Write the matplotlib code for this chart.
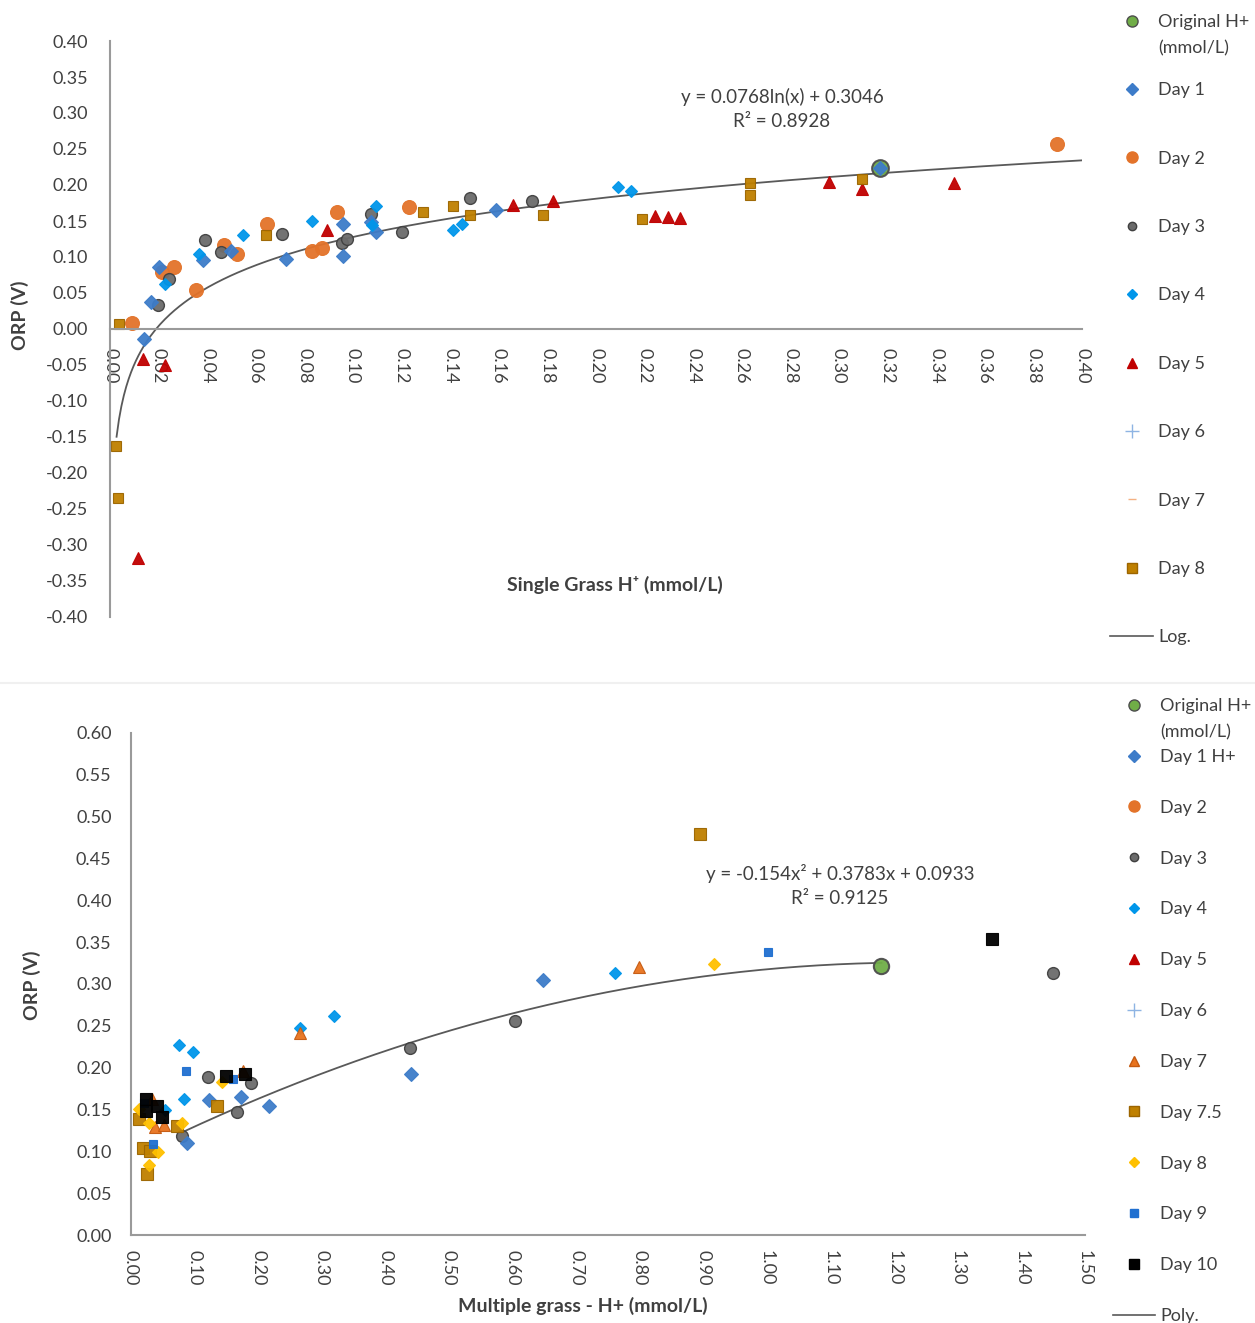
import numpy as np
import matplotlib
matplotlib.use('Agg')
import matplotlib.pyplot as plt
from matplotlib.lines import Line2D

plt.rcParams['font.family'] = ['Lato', 'DejaVu Sans']

# ---------------- gornji grafik: single grass ----------------
orig1_x = [0.317]
orig1_y = [0.223]
t_day1_x = [0.0141, 0.0169, 0.0203, 0.0381, 0.0497, 0.0724, 0.096, 0.096, 0.1073, 0.1096, 0.1587, 0.317]
t_day1_y = [-0.014, 0.037, 0.0866, 0.096, 0.108, 0.097, 0.146, 0.102, 0.148, 0.135, 0.165, 0.223]
t_day2_x = [0.0092, 0.0215, 0.0263, 0.0355, 0.0469, 0.0521, 0.0645, 0.0832, 0.0874, 0.0933, 0.123, 0.3899]
t_day2_y = [0.008, 0.079, 0.0866, 0.054, 0.116, 0.104, 0.146, 0.108, 0.112, 0.1625, 0.169, 0.257]
t_day3_x = [0.0196, 0.0243, 0.0392, 0.0455, 0.0706, 0.0956, 0.0975, 0.1073, 0.120, 0.148, 0.1738]
t_day3_y = [0.033, 0.070, 0.124, 0.107, 0.132, 0.120, 0.125, 0.160, 0.135, 0.182, 0.178]
t_day4_x = [0.0226, 0.0366, 0.0549, 0.0832, 0.1096, 0.108, 0.1413, 0.1447, 0.2089, 0.2145]
t_day4_y = [0.0625, 0.104, 0.130, 0.150, 0.171, 0.144, 0.138, 0.146, 0.197, 0.192]
t_day5_x = [0.0114, 0.0134, 0.0228, 0.0893, 0.166, 0.1822, 0.2243, 0.2295, 0.2347, 0.2958, 0.3096, 0.3474]
t_day5_y = [-0.318, -0.042, -0.050, 0.137, 0.172, 0.178, 0.157, 0.156, 0.154, 0.2046, 0.194, 0.203]
t_day8_x = [0.0025, 0.0032, 0.0037, 0.064, 0.1287, 0.1413, 0.148, 0.178, 0.219, 0.2634, 0.2634, 0.3096]
t_day8_y = [-0.1625, -0.235, 0.0065, 0.131, 0.162, 0.171, 0.159, 0.159, 0.153, 0.203, 0.186, 0.208]
# logaritamski trend: y = 0.0768ln(x) + 0.3046
log_a = 0.0768
log_b = 0.3046
log_range = [0.0027, 0.40]

# ---------------- donji grafik: multiple grass ----------------
orig2_x = [1.179]
orig2_y = [0.3215]
b_day1_x = [0.088, 0.1226, 0.1725, 0.217, 0.440, 0.648]
b_day1_y = [0.110, 0.161, 0.165, 0.1545, 0.1925, 0.305]
b_day3_x = [0.080, 0.1216, 0.1667, 0.1887, 0.439, 0.6038, 1.450]
b_day3_y = [0.118, 0.1885, 0.147, 0.182, 0.224, 0.2558, 0.313]
b_day4_x = [0.0755, 0.097, 0.083, 0.0535, 0.2657, 0.3187, 0.761]
b_day4_y = [0.227, 0.219, 0.162, 0.150, 0.248, 0.262, 0.313]
b_day7_x = [0.0335, 0.0377, 0.0519, 0.1766, 0.2657, 0.799]
b_day7_y = [0.163, 0.1295, 0.1315, 0.196, 0.242, 0.320]
b_day75_x = [0.0126, 0.0194, 0.0299, 0.0247, 0.0718, 0.1357, 0.895]
b_day75_y = [0.139, 0.1036, 0.1004, 0.0725, 0.130, 0.1545, 0.479]
b_day8_x = [0.0126, 0.028, 0.043, 0.028, 0.0807, 0.143, 0.917]
b_day8_y = [0.151, 0.1335, 0.0996, 0.0837, 0.1335, 0.183, 0.324]
b_day9_x = [0.021, 0.035, 0.0865, 0.161, 1.0016]
b_day9_y = [0.158, 0.1084, 0.196, 0.187, 0.338]
b_day10_x = [0.023, 0.023, 0.0414, 0.048, 0.150, 0.179, 1.354]
b_day10_y = [0.163, 0.148, 0.1545, 0.141, 0.190, 0.193, 0.354]
# polinomski trend: y = -0.154x^2 + 0.3783x + 0.0933
poly_c = [-0.154, 0.3783, 0.0933]
poly_range = [0.08, 1.18]

# boje
c_orig = '#70AD47'
c_d1 = '#3D7CC9'
c_d2 = '#E3732A'
c_d3 = '#6B6B6B'
c_d4 = '#0096EA'
c_d5 = '#C00000'
c_d6 = '#8EB4E3'
c_d7top = '#F4B183'
c_d7 = '#E8731E'
c_d75 = '#BF8000'
c_d8 = '#FFC000'
c_d9 = '#1F6FD0'
c_d10 = '#000000'
c_trend = '#595959'
c_text = '#404040'
c_axis = '#9A9A9A'

W, H = 1255, 1323
fig = plt.figure(figsize=(W / 100, H / 100), dpi=100)

def fmt(vals):
    # round i +0.0 da ne bi bilo "-0.00"
    return ['%.2f' % (round(v, 2) + 0.0) for v in vals]

def style_axis(ax):
    for s in ['top', 'right']:
        ax.spines[s].set_visible(False)
    for s in ['left', 'bottom']:
        ax.spines[s].set_color(c_axis)
        ax.spines[s].set_linewidth(1.5)
    ax.tick_params(length=0, labelsize=13, labelcolor=c_text)

def pts(ax, x, y, marker, ms, fc, ec=None, mew=0.8):
    ax.plot(x, y, linestyle='none', marker=marker, markersize=ms,
            markerfacecolor=fc, markeredgecolor=ec if ec else fc,
            markeredgewidth=mew, alpha=0.95)

# ---------------- gornji grafik ----------------
ax1 = fig.add_axes([110 / W, 1 - 617 / H, 972 / W, 576 / H])
style_axis(ax1)
ax1.spines['bottom'].set_position(('data', 0))
ax1.set_xlim(0, 0.40)
ax1.set_ylim(-0.40, 0.40)
xt1 = np.arange(0, 0.401, 0.02)
yt1 = np.arange(-0.40, 0.401, 0.05)
ax1.set_xticks(xt1)
ax1.set_xticklabels(fmt(xt1), rotation=270)
ax1.set_yticks(yt1)
ax1.set_yticklabels(fmt(yt1))
ax1.tick_params(axis='x', pad=14)
ax1.tick_params(axis='y', pad=16)

xl = np.linspace(log_range[0], log_range[1], 400)
ax1.plot(xl, log_a * np.log(xl) + log_b, color=c_trend, lw=1.3, zorder=1)

pts(ax1, orig1_x, orig1_y, 'o', 12, c_orig, '#4D4D4D', 1.5)
pts(ax1, t_day2_x, t_day2_y, 'o', 10, c_d2)
pts(ax1, t_day3_x, t_day3_y, 'o', 8.5, c_d3, '#404040', 1.0)
pts(ax1, t_day1_x, t_day1_y, 'D', 7.5, c_d1)
pts(ax1, t_day4_x, t_day4_y, 'D', 6.5, c_d4)
pts(ax1, t_day5_x, t_day5_y, '^', 8, c_d5)
pts(ax1, t_day8_x, t_day8_y, 's', 7.5, c_d75, '#9C6500')

ax1.text(0.2765, 0.306, 'y = 0.0768ln(x) + 0.3046\nR² = 0.8928', ha='center', va='center',
         fontsize=13.5, color=c_text, linespacing=1.5)

# ---------------- donji grafik ----------------
ax2 = fig.add_axes([131 / W, 1 - 1235 / H, 954 / W, 502 / H])
style_axis(ax2)
ax2.set_xlim(0, 1.50)
ax2.set_ylim(0, 0.60)
xt2 = np.arange(0, 1.501, 0.10)
yt2 = np.arange(0, 0.601, 0.05)
ax2.set_xticks(xt2)
ax2.set_xticklabels(fmt(xt2), rotation=270)
ax2.set_yticks(yt2)
ax2.set_yticklabels(fmt(yt2))
ax2.tick_params(axis='x', pad=11)
ax2.tick_params(axis='y', pad=14)

xp = np.linspace(poly_range[0], poly_range[1], 400)
ax2.plot(xp, np.polyval(poly_c, xp), color=c_trend, lw=1.3, zorder=1)

pts(ax2, orig2_x, orig2_y, 'o', 11, c_orig, '#4D4D4D', 1.5)
pts(ax2, b_day3_x, b_day3_y, 'o', 8.5, c_d3, '#404040', 1.0)
pts(ax2, b_day1_x, b_day1_y, 'D', 7, c_d1)
pts(ax2, b_day4_x, b_day4_y, 'D', 6.5, c_d4)
pts(ax2, b_day7_x, b_day7_y, '^', 8, c_d7, '#C55A11')
pts(ax2, b_day75_x, b_day75_y, 's', 8, c_d75, '#9C6500')
pts(ax2, b_day8_x, b_day8_y, 'D', 6.5, c_d8)
pts(ax2, b_day9_x, b_day9_y, 's', 6, c_d9)
pts(ax2, b_day10_x, b_day10_y, 's', 8, c_d10)

ax2.text(1.115, 0.418, 'y = -0.154x² + 0.3783x + 0.0933\nR² = 0.9125', ha='center', va='center',
         fontsize=13.5, color=c_text, linespacing=1.5)

# naslovi osa
fig.text(20 / W, 1 - 315 / H, 'ORP (V)', rotation=90, ha='center', va='center',
         fontsize=14, fontweight='bold', color=c_text)
fig.text(615 / W, 1 - 585 / H, 'Single Grass H⁺ (mmol/L)', ha='center', va='center',
         fontsize=14, fontweight='bold', color=c_text)
fig.text(32 / W, 1 - 985 / H, 'ORP (V)', rotation=90, ha='center', va='center',
         fontsize=14, fontweight='bold', color=c_text)
fig.text(583 / W, 1 - 1306 / H, 'Multiple grass - H+ (mmol/L)', ha='center', va='center',
         fontsize=14, fontweight='bold', color=c_text)

# tanka linija izmedju dva grafika
fig.add_artist(Line2D([0, 1], [1 - 683 / H, 1 - 683 / H], color='#F0F0F0', lw=1.5))

# legende
def mk(marker, fc, ec=None, ms=7):
    return Line2D([], [], linestyle='none', marker=marker, markersize=ms,
                  markerfacecolor=fc, markeredgecolor=ec if ec else fc)

top_handles = [mk('o', c_orig, '#4D4D4D', 8), mk('D', c_d1, ms=6), mk('o', c_d2, ms=8),
               mk('o', c_d3, '#404040', 6), mk('D', c_d4, ms=5.5), mk('^', c_d5),
               mk('+', c_d6, ms=10), mk('_', c_d7top, ms=6), mk('s', c_d75, '#9C6500', 6.5),
               Line2D([], [], color=c_trend, lw=1.2)]
top_labels = ['Original H+', 'Day 1', 'Day 2', 'Day 3', 'Day 4', 'Day 5', 'Day 6',
              'Day 7', 'Day 8', 'Log.']
leg1 = fig.legend(top_handles, top_labels, loc='upper left',
                  bbox_to_anchor=(1101 / W, 1 - 5 / H), frameon=False, fontsize=13,
                  labelspacing=2.9, handlelength=2.4, handletextpad=0.25,
                  borderpad=0, labelcolor=c_text)

bot_handles = [mk('o', c_orig, '#4D4D4D', 8), mk('D', c_d1, ms=6), mk('o', c_d2, ms=8),
               mk('o', c_d3, '#404040', 6), mk('D', c_d4, ms=5.5), mk('^', c_d5),
               mk('+', c_d6, ms=10), mk('^', c_d7, '#C55A11'), mk('s', c_d75, '#9C6500', 6.5),
               mk('D', c_d8, ms=5.5), mk('s', c_d9, ms=5.5), mk('s', c_d10, ms=6.5),
               Line2D([], [], color=c_trend, lw=1.2)]
bot_labels = ['Original H+', 'Day 1 H+', 'Day 2', 'Day 3', 'Day 4', 'Day 5', 'Day 6',
              'Day 7', 'Day 7.5', 'Day 8', 'Day 9', 'Day 10', 'Poly.']
leg2 = fig.legend(bot_handles, bot_labels, loc='upper left',
                  bbox_to_anchor=(1104 / W, 1 - 689 / H), frameon=False, fontsize=13,
                  labelspacing=1.93, handlelength=2.3, handletextpad=0.3,
                  borderpad=0, labelcolor=c_text)

# drugi red teksta "(mmol/L)" ispod prve stavke legende
fig.canvas.draw()
inv = fig.transFigure.inverted()
for leg in [leg1, leg2]:
    bb = leg.get_texts()[0].get_window_extent()
    x0, y0 = inv.transform((bb.x0, bb.y0))
    fig.text(x0, y0 - 0.008, '(mmol/L)', ha='left', va='top', fontsize=13, color=c_text)

fig.savefig('out.png', dpi=100)
